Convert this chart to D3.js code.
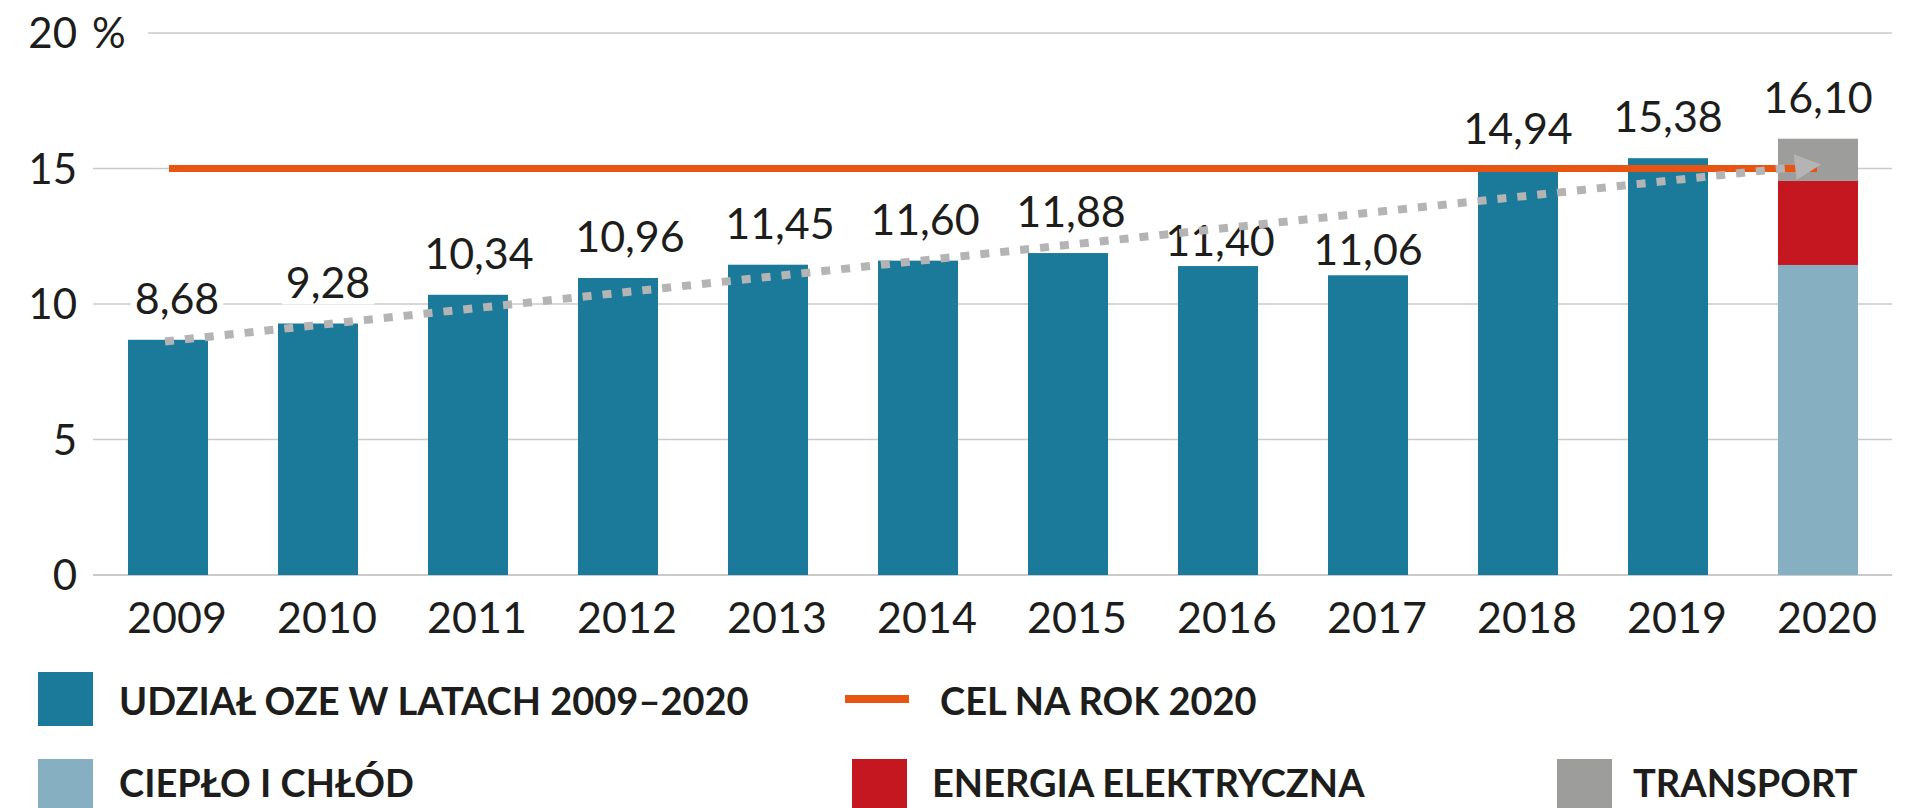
<!DOCTYPE html>
<html>
<head>
<meta charset="utf-8">
<script src="https://cdn.jsdelivr.net/npm/d3@7"></script>
<style>
  body { margin: 0; background: #fff; }
  svg { display: block; font-family: Lato, "Open Sans", sans-serif; }
</style>
</head>
<body>
<svg id="chart" width="1914" height="808"></svg>
<script>
// ---- data ----
const years = ['2009', '2010', '2011', '2012', '2013', '2014', '2015', '2016', '2017', '2018', '2019', '2020'];
// share of renewables, 2009-2019 (2020 is stacked below)
const shares = [8.68, 9.28, 10.34, 10.96, 11.45, 11.60, 11.88, 11.40, 11.06, 14.94, 15.38];
// 2020 split by sector
const partKeys = ['heat', 'power', 'transport'];
const partValues = [11.44, 3.10, 1.56];
const total2020 = 16.10;
const target = 15;
const trendFrom = 8.62;
const trendTo = 15.15;
const yTicks = [0, 5, 10, 15, 20];
const legendRow1 = ['UDZIAŁ OZE W LATACH 2009–2020', 'CEL NA ROK 2020'];
const legendRow2 = ['CIEPŁO I CHŁÓD', 'ENERGIA ELEKTRYCZNA', 'TRANSPORT'];

const colors = {
  share: '#1b7a99',
  heat: '#87afc2',
  power: '#c4171f',
  transport: '#9d9d9c',
  target: '#e85412',
  trend: '#b4b4b4',
  grid: '#cacaca'
};

// hand placement of some value labels (they dodge the trend arrow)
const labelNudge = {
  '2009': [9, 0], '2010': [10, 0], '2011': [11, 0], '2012': [12, 0],
  '2013': [12, 0], '2014': [7, 0], '2015': [3, 0],
  '2016': [2, 16], '2017': [0, 16]
};

const pl = d3.formatLocale({decimal: ',', thousands: ' ', grouping: [3], currency: ['', '']});
const fmt = pl.format('.2f');

let svg = d3.select('#chart');

// scales
let x = d3.scaleBand()
  .domain(years)
  .range([93, 1893])
  .paddingInner(0.4667)
  .paddingOuter(0.2333);

let y = d3.scaleLinear()
  .domain([0, 20])
  .range([575, 33]);

let cx = d => x(d) + x.bandwidth() / 2;

// gridlines
svg.append('g')
  .selectAll('line')
  .data(yTicks)
  .enter().append('line')
  .attr('x1', d => d === 20 ? 148 : 93)
  .attr('x2', 1892)
  .attr('y1', d => y(d))
  .attr('y2', d => y(d))
  .attr('stroke', colors.grid)
  .attr('stroke-width', d => d === 0 ? 2 : 1.5);

// y tick labels
svg.append('g')
  .selectAll('text')
  .data(yTicks)
  .enter().append('text')
  .attr('x', 77)
  .attr('y', d => y(d) + 15)
  .attr('text-anchor', 'end')
  .attr('font-size', 42)
  .attr('fill', '#1d1d1b')
  .text(d => d);

svg.append('text')
  .attr('x', 92)
  .attr('y', y(20) + 15)
  .attr('font-size', 42)
  .attr('fill', '#1d1d1b')
  .text('%');

// x tick labels
svg.append('g')
  .selectAll('text')
  .data(years)
  .enter().append('text')
  .attr('x', d => cx(d) + 9)
  .attr('y', 633)
  .attr('text-anchor', 'middle')
  .attr('font-size', 43)
  .attr('fill', '#1d1d1b')
  .text(d => d);

// value labels (white box hides the gridline behind the text)
let labelData = shares.map((v, i) => ({year: years[i], value: v}))
  .concat([{year: '2020', value: total2020}]);

let labels = svg.append('g')
  .selectAll('g')
  .data(labelData)
  .enter().append('g');

labels.append('text')
  .attr('class', 'vlabel')
  .attr('x', d => cx(d.year) + (labelNudge[d.year] ? labelNudge[d.year][0] : 0))
  .attr('y', d => y(d.value) - 26 + (labelNudge[d.year] ? labelNudge[d.year][1] : 0))
  .attr('text-anchor', 'middle')
  .attr('font-size', 43)
  .attr('fill', '#1d1d1b')
  .text(d => fmt(d.value));

labels.each(function() {
  let g = d3.select(this);
  let bb = g.select('text').node().getBBox();
  g.insert('rect', 'text')
    .attr('x', bb.x - 4)
    .attr('y', bb.y + 4)
    .attr('width', bb.width + 8)
    .attr('height', bb.height - 6)
    .attr('fill', '#fff');
});

// bars 2009-2019
svg.append('g')
  .selectAll('rect')
  .data(shares)
  .enter().append('rect')
  .attr('x', (d, i) => x(years[i]))
  .attr('y', d => y(d))
  .attr('width', x.bandwidth())
  .attr('height', d => y(0) - y(d))
  .attr('fill', colors.share);

// stacked 2020
let acc = 0;
let stack = partValues.map((v, i) => {
  let s = {key: partKeys[i], y0: acc, y1: acc + v};
  acc += v;
  return s;
});

svg.append('g')
  .selectAll('rect')
  .data(stack)
  .enter().append('rect')
  .attr('x', x('2020'))
  .attr('y', d => y(d.y1))
  .attr('width', x.bandwidth())
  .attr('height', d => y(d.y0) - y(d.y1))
  .attr('fill', d => colors[d.key]);

// target line
svg.append('line')
  .attr('x1', 169)
  .attr('x2', 1817)
  .attr('y1', y(target))
  .attr('y2', y(target))
  .attr('stroke', colors.target)
  .attr('stroke-width', 7);

// dotted trend arrow
let tx0 = cx('2009') - 3, ty0 = y(trendFrom);
let tx1 = cx('2020') + 3, ty1 = y(trendTo);
let ang = Math.atan2(ty1 - ty0, tx1 - tx0);
let headLen = 26, headHalf = 13;
let bx = tx1 - headLen * Math.cos(ang), by = ty1 - headLen * Math.sin(ang);

svg.append('line')
  .attr('x1', tx0)
  .attr('y1', ty0)
  .attr('x2', bx)
  .attr('y2', by)
  .attr('stroke', colors.trend)
  .attr('stroke-width', 8)
  .attr('stroke-dasharray', '9 11');

svg.append('path')
  .attr('d', 'M' + tx1 + ',' + ty1
    + 'L' + (bx - headHalf * Math.sin(ang)) + ',' + (by + headHalf * Math.cos(ang))
    + 'L' + (bx + headHalf * Math.sin(ang)) + ',' + (by - headHalf * Math.cos(ang)) + 'Z')
  .attr('fill', colors.trend);

// legend
let legend = svg.append('g')
  .attr('font-size', 38)
  .attr('font-weight', 700)
  .attr('fill', '#1d1d1b');

// row 1
legend.append('rect')
  .attr('x', 38).attr('y', 672)
  .attr('width', 55).attr('height', 54)
  .attr('fill', colors.share);
legend.append('text')
  .attr('x', 119).attr('y', 715)
  .text(legendRow1[0]);

legend.append('line')
  .attr('x1', 845).attr('x2', 909)
  .attr('y1', 699).attr('y2', 699)
  .attr('stroke', colors.target)
  .attr('stroke-width', 8);
legend.append('text')
  .attr('x', 940).attr('y', 715)
  .text(legendRow1[1]);

// row 2
let row2 = [
  {sx: 38, tx: 119, key: 'heat'},
  {sx: 852, tx: 932, key: 'power'},
  {sx: 1557, tx: 1633, key: 'transport'}
];
row2.forEach((r, i) => {
  legend.append('rect')
    .attr('x', r.sx).attr('y', 759)
    .attr('width', 55).attr('height', 54)
    .attr('fill', colors[r.key]);
  legend.append('text')
    .attr('x', r.tx).attr('y', 797)
    .text(legendRow2[i]);
});
</script>
</body>
</html>
